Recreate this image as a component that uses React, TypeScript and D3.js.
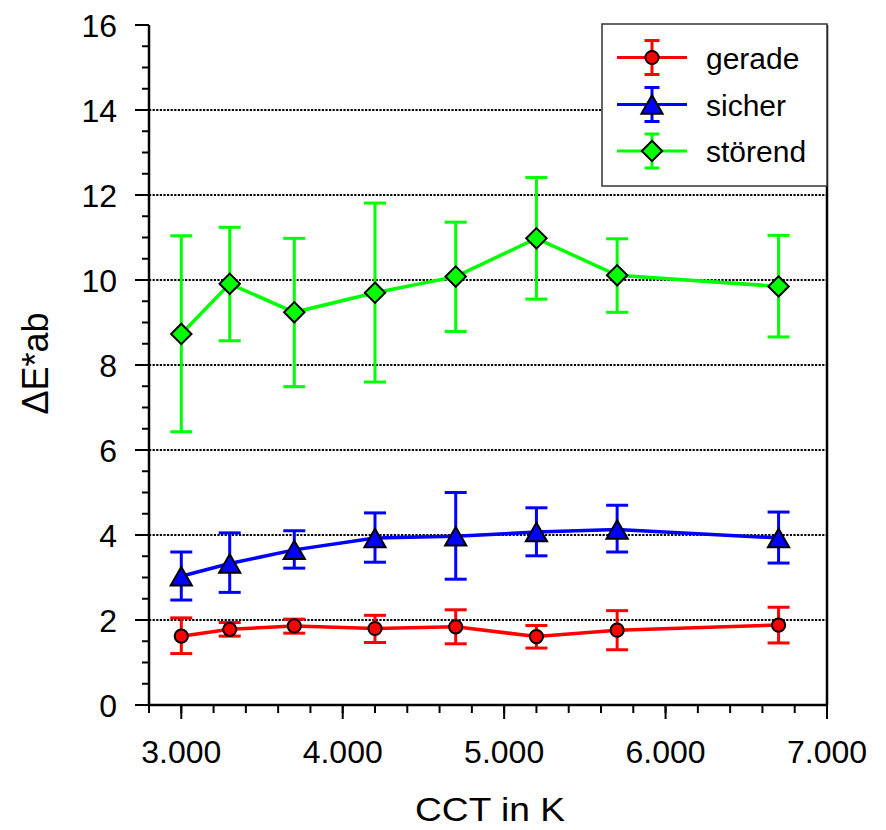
import React from "react";
import * as d3 from "d3";

const cct = [3000, 3300, 3700, 4200, 4700, 5200, 5700, 6700];

const geradeMean = [1.62, 1.78, 1.86, 1.8, 1.84, 1.61, 1.76, 1.88];
const geradeUpper = [2.05, 1.94, 2.02, 2.11, 2.24, 1.87, 2.22, 2.3];
const geradeLower = [1.21, 1.62, 1.69, 1.47, 1.44, 1.34, 1.3, 1.46];

const sicherMean = [3.03, 3.33, 3.65, 3.93, 3.97, 4.07, 4.13, 3.93];
const sicherUpper = [3.6, 4.05, 4.1, 4.52, 5.0, 4.64, 4.7, 4.54];
const sicherLower = [2.47, 2.65, 3.22, 3.36, 2.96, 3.51, 3.6, 3.34];

const stoerendMean = [8.73, 9.91, 9.24, 9.7, 10.08, 10.98, 10.11, 9.85];
const stoerendUpper = [11.04, 11.24, 10.98, 11.81, 11.36, 12.41, 10.97, 11.05];
const stoerendLower = [6.43, 8.57, 7.49, 7.6, 8.79, 9.55, 9.24, 8.66];

const seriesNames = ["gerade", "sicher", "störend"];
const seriesColors = ["#ff0000", "#0000ff", "#00ff00"];
const seriesShapes = ["circle", "triangle", "diamond"];

const xMajorTicks = [3000, 4000, 5000, 6000, 7000];
const yMajorTicks = [0, 2, 4, 6, 8, 10, 12, 14, 16];
const yGridTicks = [2, 4, 6, 8, 10, 12, 14];

const xTitle = "CCT in K";
const yTitle = "ΔE*ab";

const W = 886;
const H = 830;
const L = 149;
const R = 827;
const T = 25;
const B = 705;
const FONT = "'Liberation Sans', Arial, Helvetica, sans-serif";

function Marker({ shape, x, y, color }: { shape: string; x: number; y: number; color: string }) {
  if (shape === "circle") {
    return <circle cx={x} cy={y} r={6.6} fill={color} stroke="#000" strokeWidth={2} />;
  }
  if (shape === "triangle") {
    const p = `M${x},${y - 9.2}L${x + 10.6},${y + 9.2}L${x - 10.6},${y + 9.2}Z`;
    return <path d={p} fill={color} stroke="#000" strokeWidth={2} strokeLinejoin="miter" />;
  }
  const s = 10.2;
  const p = `M${x},${y - s}L${x + s},${y}L${x},${y + s}L${x - s},${y}Z`;
  return <path d={p} fill={color} stroke="#000" strokeWidth={2} />;
}

export default function App() {
  const x = d3.scaleLinear().domain([2800, 7000]).range([L, R]);
  const y = d3.scaleLinear().domain([0, 16]).range([B, T]);

  const series = [
    { mean: geradeMean, up: geradeUpper, lo: geradeLower },
    { mean: sicherMean, up: sicherUpper, lo: sicherLower },
    { mean: stoerendMean, up: stoerendUpper, lo: stoerendLower },
  ].map((s, i) => ({ ...s, name: seriesNames[i], color: seriesColors[i], shape: seriesShapes[i] }));

  const line = d3
    .line<number>()
    .x((_, i) => x(cct[i]))
    .y((d) => y(d));

  const xMinor = d3.range(2800, 7000.1, 200);
  const yMinor = d3.range(0, 16.01, 0.5);

  const capW = 11;
  const legX0 = 617;
  const legX1 = 687;
  const legMX = 652;
  const legY = [57.5, 104.5, 151];

  return (
    <svg width={W} height={H} style={{ display: "block", position: "absolute", left: 0, top: 0 }}>
      <rect x={0} y={0} width={W} height={H} fill="#fff" />
      {/* gridlines */}
      {yGridTicks.map((t) => (
        <line
          key={"g" + t}
          x1={L}
          x2={R}
          y1={y(t)}
          y2={y(t)}
          stroke="#000"
          strokeWidth={2}
          strokeDasharray="2.2 1.4"
        />
      ))}

      {/* series */}
      {series.map((s) => (
        <g key={s.name}>
          <path d={line(s.mean) || ""} fill="none" stroke={s.color} strokeWidth={3.5} />
          {s.mean.map((_, i) => (
            <g key={i} stroke={s.color} strokeWidth={3}>
              <line x1={x(cct[i])} x2={x(cct[i])} y1={y(s.up[i])} y2={y(s.lo[i])} />
              <line x1={x(cct[i]) - capW} x2={x(cct[i]) + capW} y1={y(s.up[i])} y2={y(s.up[i])} />
              <line x1={x(cct[i]) - capW} x2={x(cct[i]) + capW} y1={y(s.lo[i])} y2={y(s.lo[i])} />
            </g>
          ))}
          {s.mean.map((v, i) => (
            <Marker key={"m" + i} shape={s.shape} x={x(cct[i])} y={y(v)} color={s.color} />
          ))}
        </g>
      ))}

      {/* axes */}
      <line x1={L} x2={L} y1={T} y2={B + 1} stroke="#000" strokeWidth={2.5} />
      <line x1={L - 1} x2={R + 1} y1={B} y2={B} stroke="#000" strokeWidth={2.5} />
      <line x1={R} x2={R} y1={T} y2={B} stroke="#000" strokeWidth={2.5} />

      {yMinor.map((t) => (
        <line key={"ym" + t} x1={L - 7} x2={L} y1={y(t)} y2={y(t)} stroke="#000" strokeWidth={2} />
      ))}
      {yMajorTicks.map((t) => (
        <g key={"yM" + t}>
          <line x1={L - 14} x2={L} y1={y(t)} y2={y(t)} stroke="#000" strokeWidth={2} />
          <text
            x={117}
            y={y(t)}
            dy="0.36em"
            textAnchor="end"
            fontFamily={FONT}
            fontSize={32}
            fill="#000"
          >
            {t}
          </text>
        </g>
      ))}
      {xMinor.map((t) => (
        <line key={"xm" + t} x1={x(t)} x2={x(t)} y1={B} y2={B + 8} stroke="#000" strokeWidth={2} />
      ))}
      {xMajorTicks.map((t) => (
        <g key={"xM" + t}>
          <line x1={x(t)} x2={x(t)} y1={B} y2={B + 14} stroke="#000" strokeWidth={2} />
          <text x={x(t)} y={763} textAnchor="middle" fontFamily={FONT} fontSize={32} fill="#000">
            {d3.format(",")(t).replace(",", ".")}
          </text>
        </g>
      ))}

      <text
        x={490}
        y={821}
        textAnchor="middle"
        fontFamily={FONT}
        fontSize={34}
        textLength={150}
        lengthAdjust="spacingAndGlyphs"
        fill="#000"
      >
        {xTitle}
      </text>
      <text
        transform={`translate(48,363.5) rotate(-90)`}
        textAnchor="middle"
        fontFamily={FONT}
        fontSize={36}
        fill="#000"
      >
        {yTitle}
      </text>

      {/* legend */}
      <rect x={602} y={24} width={225} height={162} fill="#fff" stroke="#333" strokeWidth={1.5} />
      {series.map((s, i) => (
        <g key={"leg" + i}>
          <line x1={legX0} x2={legX1} y1={legY[i]} y2={legY[i]} stroke={s.color} strokeWidth={3} />
          <g stroke={s.color} strokeWidth={3}>
            <line x1={legMX} x2={legMX} y1={legY[i] - 17} y2={legY[i] + 17} />
            <line x1={legMX - 7.5} x2={legMX + 7.5} y1={legY[i] - 17} y2={legY[i] - 17} />
            <line x1={legMX - 7.5} x2={legMX + 7.5} y1={legY[i] + 17} y2={legY[i] + 17} />
          </g>
          <Marker shape={s.shape} x={legMX} y={legY[i]} color={s.color} />
          <text x={706} y={legY[i] + 11} fontFamily={FONT} fontSize={30} fill="#000">
            {s.name}
          </text>
        </g>
      ))}
    </svg>
  );
}
